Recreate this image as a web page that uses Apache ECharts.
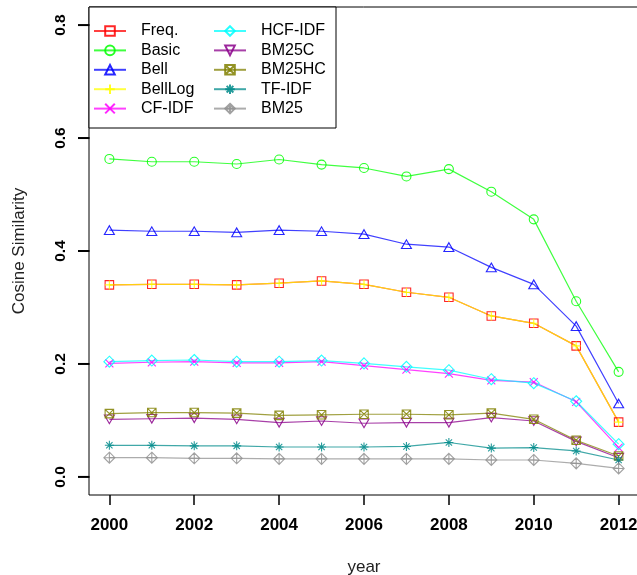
<!DOCTYPE html>
<html><head><meta charset="utf-8">
<script src="https://cdn.jsdelivr.net/npm/echarts@6/dist/echarts.min.js"></script>
<style>html,body{margin:0;padding:0;background:#fff}#c{width:637px;height:575px}</style>
</head><body><div id="c"></div>
<script>
const years = [2000,2001,2002,2003,2004,2005,2006,2007,2008,2009,2010,2011,2012];
const xTicks = [2000,2002,2004,2006,2008,2010,2012];
const yTicks = [0,0.2,0.4,0.6,0.8];
const seriesNames = ['Freq.','Basic','Bell','BellLog','CF-IDF','HCF-IDF','BM25C','BM25HC','TF-IDF','BM25'];
const freq    = [0.340,0.341,0.341,0.340,0.343,0.347,0.341,0.327,0.318,0.285,0.272,0.232,0.097];
const basic   = [0.563,0.558,0.558,0.554,0.562,0.553,0.547,0.532,0.545,0.505,0.456,0.311,0.186];
const bell    = [0.437,0.435,0.435,0.433,0.437,0.435,0.430,0.412,0.407,0.371,0.341,0.267,0.130];
const bellLog = [0.340,0.341,0.341,0.340,0.343,0.347,0.341,0.327,0.318,0.285,0.272,0.232,0.097];
const cfIdf   = [0.201,0.203,0.204,0.202,0.202,0.204,0.197,0.190,0.183,0.171,0.168,0.133,0.052];
const hcfIdf  = [0.204,0.206,0.207,0.204,0.204,0.206,0.201,0.195,0.189,0.173,0.166,0.134,0.058];
const bm25c   = [0.102,0.103,0.104,0.102,0.096,0.099,0.095,0.096,0.096,0.105,0.099,0.063,0.034];
const bm25hc  = [0.112,0.114,0.114,0.113,0.109,0.110,0.111,0.111,0.110,0.113,0.102,0.065,0.037];
const tfIdf   = [0.056,0.056,0.055,0.055,0.053,0.053,0.053,0.054,0.061,0.051,0.052,0.046,0.030];
const bm25    = [0.034,0.034,0.033,0.033,0.032,0.032,0.032,0.032,0.032,0.030,0.030,0.024,0.015];
const allValues = [freq,basic,bell,bellLog,cfIdf,hcfIdf,bm25c,bm25hc,tfIdf,bm25];

const X_MIN = 1999.52, X_MAX = 2012.48, Y_MIN = -0.032, Y_MAX = 0.832;

const colors = ['#FF0000','#00FF00','#0000FF','#FFFF00','#FF00FF','#00FFFF','#8B008B','#808000','#008B8B','#909090'];
const symbols = [
  'rect','circle','triangle',
  'path://M5,0L5,10M0,5L10,5',
  'path://M0,0L10,10M10,0L0,10',
  'diamond',
  'path://M0,0L10,0L5,8.66Z',
  'path://M0,0L10,0L10,10L0,10ZM0,0L10,10M10,0L0,10',
  'path://M5,0L5,10M0,5L10,5M1.5,1.5L8.5,8.5M8.5,1.5L1.5,8.5',
  'path://M5,0L10,5L5,10L0,5ZM5,0L5,10M0,5L10,5'
];
const sizes = [8.5,9,[10,8.7],9,8,11,[10,8.7],8.5,9,11];

const series = seriesNames.map((n,i)=>({
  name:n, type:'line',
  data: years.map((y,j)=>[y, allValues[i][j]]),
  symbol: symbols[i], symbolSize: sizes[i], showSymbol:true,
  lineStyle:{color:colors[i], width:1.2, opacity:0.75},
  itemStyle:{color:'transparent', borderColor:colors[i], borderWidth:1.1, opacity:0.85},
  emphasis:{disabled:true}
}));

const legendCommon = {
  orient:'vertical', padding:0, itemWidth:32, itemHeight:12, itemGap:3.4,
  textStyle:{fontFamily:'Liberation Sans', fontSize:16, color:'#000', lineHeight:16, padding:[0,0,0,10]},
  selectedMode:false, inactiveColor:'#000'
};

const chart = echarts.init(document.getElementById('c'), null, {renderer:'canvas'});
chart.setOption({
  animation:false,
  backgroundColor:'#fff',
  grid:{left:89, top:7, width:550, height:488, show:true, borderColor:'#000', borderWidth:1, backgroundColor:'transparent', containLabel:false, outerBoundsMode:'none'},
  xAxis:{
    type:'value', min:X_MIN, max:X_MAX,
    name:'year', nameLocation:'middle', nameGap:64, nameMoveOverlap:false,
    nameTextStyle:{fontFamily:'Liberation Sans', fontSize:17, color:'#222'},
    axisLine:{show:false, onZero:false}, splitLine:{show:false},
    axisTick:{show:true, inside:false, customValues:xTicks, length:10, lineStyle:{color:'#000', width:1.5}},
    axisLabel:{customValues:xTicks, margin:22, fontFamily:'Liberation Sans', fontWeight:'bold', fontSize:17, color:'#000', formatter:v=>String(v)}
  },
  yAxis:{
    type:'value', min:Y_MIN, max:Y_MAX,
    name:'Cosine Similarity', nameLocation:'middle', nameGap:61, nameMoveOverlap:false,
    nameTextStyle:{fontFamily:'Liberation Sans', fontSize:17, color:'#222'},
    axisLine:{show:false, onZero:false}, splitLine:{show:false},
    axisTick:{show:false},
    axisLabel:{customValues:yTicks, rotate:90, margin:20, fontFamily:'Liberation Sans', fontWeight:'bold', fontSize:15.5, color:'#000', formatter:v=>v.toFixed(1)}
  },
  legend:[
    Object.assign({}, legendCommon, {left:93, top:23, data:seriesNames.slice(0,5), z:5}),
    Object.assign({}, legendCommon, {left:213, top:23, data:seriesNames.slice(5), z:5})
  ],
  series: series
});

// legend box and y-axis tick marks (tick positions go through the axis scale)
const graphics = [{id:'legendBox', type:'rect', z:3, shape:{x:89, y:7, width:247, height:121}, style:{fill:'#fff', stroke:'#000', lineWidth:1}}];
yTicks.forEach((v,i)=>{
  const p = chart.convertToPixel({gridIndex:0}, [X_MIN, v]);
  graphics.push({id:'ytick'+i, type:'line', z:20, shape:{x1:p[0]-11, y1:p[1], x2:p[0]+0.5, y2:p[1]}, style:{stroke:'#000', lineWidth:2}});
});
chart.setOption({graphic:graphics});
</script></body></html>
